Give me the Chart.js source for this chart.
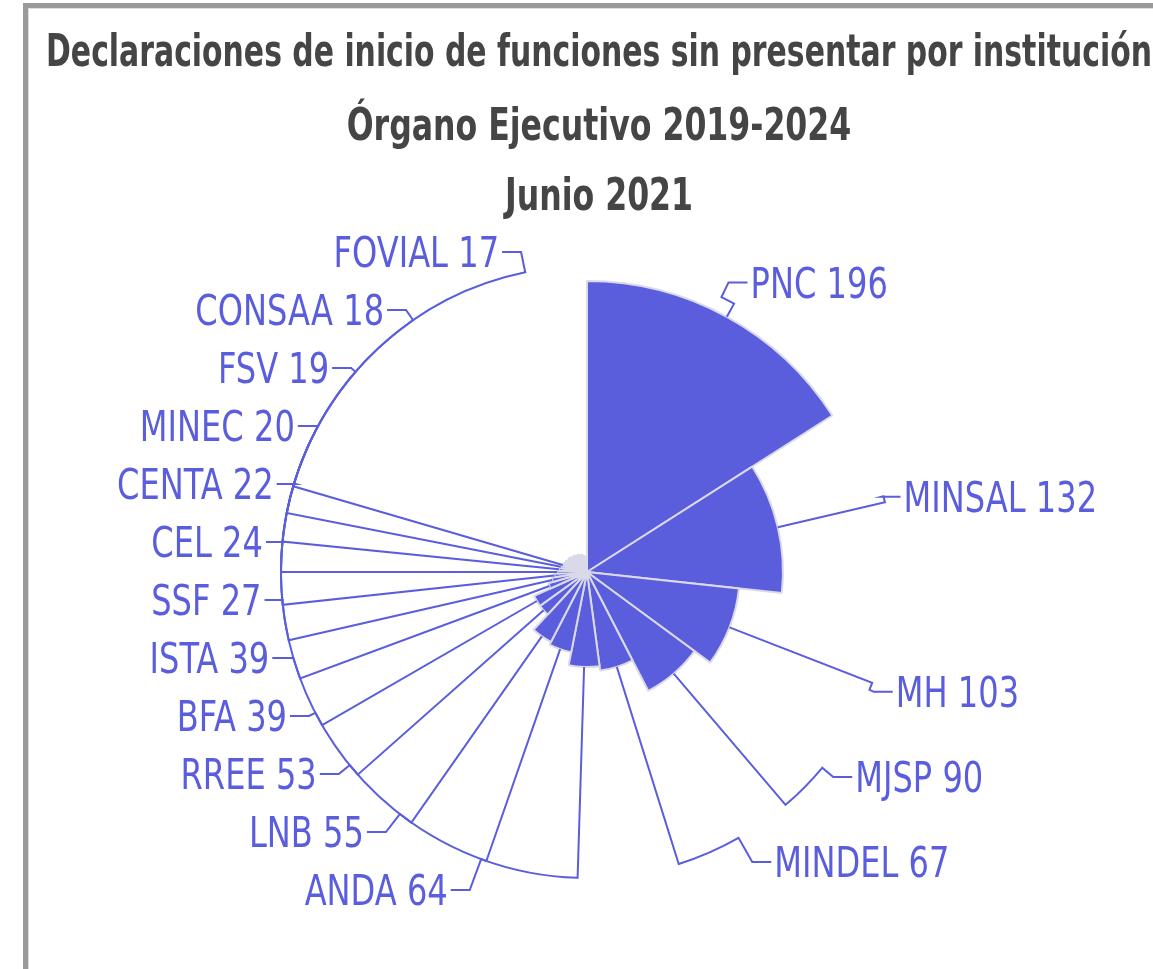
<!DOCTYPE html>
<html lang="es">
<head>
<meta charset="utf-8">
<title>Declaraciones de inicio de funciones sin presentar por institución</title>
<script src="https://cdn.jsdelivr.net/npm/chart.js@4.4.1/dist/chart.umd.min.js"></script>
<style>
  html, body { margin: 0; padding: 0; background: #fff; overflow: hidden; }
  #marco {
    position: absolute; left: 23px; top: 3px;
    width: 1200px; height: 1000px;
    border: 5px solid #9a9a9a;
    box-shadow: inset 1px 1px 0 #dedede;
  }
  #grafico { position: absolute; left: 0; top: 0; }
</style>
</head>
<body>
<div id="marco"></div>
<canvas id="grafico" width="1153" height="969"></canvas>
<script>
// instituciones con etiqueta visible
var instituciones = ["PNC", "MINSAL", "MH", "MJSP", "MINDEL", "ANDA", "LNB", "RREE", "BFA",
  "ISTA", "SSF", "CEL", "CENTA", "MINEC", "FSV", "CONSAA", "FOVIAL"];
var declaraciones = [196, 132, 103, 90, 67, 64, 55, 53, 39, 39, 27, 24, 22, 20, 19, 18, 17];
// resto de instituciones, sin etiqueta en el gráfico (valores estimados)
var otrasDeclaraciones = [16, 16, 15, 15, 15, 14, 14, 14, 13, 13, 13, 12, 12, 12, 11, 11, 10, 10, 7];

var titulo = [
  "Declaraciones de inicio de funciones sin presentar por institución",
  "Órgano Ejecutivo 2019-2024",
  "Junio 2021"
];

var azul = "#5a5edc";
var fuente = "'Liberation Sans Narrow', 'DejaVu Sans Condensed', sans-serif";

var etiquetas = instituciones.concat(otrasDeclaraciones.map(function () { return ""; }));
var valores = declaraciones.concat(otrasDeclaraciones);
var total = valores.reduce(function (a, b) { return a + b; }, 0);

// texto estrecho: se comprime en horizontal para imitar la fuente narrow del original
function textoEstrecho(ctx, txt, x, y, factor) {
  ctx.fillText(txt, x, y, ctx.measureText(txt).width * factor);
}

// titulo de tres lineas centrado sobre el marco
var tituloPlugin = {
  id: "titulo",
  afterDraw: function (chart) {
    var ctx = chart.ctx;
    var lineas = [66, 140, 210];
    var factores = [0.738, 0.78, 0.78];
    ctx.save();
    ctx.fillStyle = "#454545";
    ctx.font = "bold 45px " + fuente;
    ctx.textAlign = "center";
    ctx.textBaseline = "alphabetic";
    titulo.forEach(function (t, i) {
      textoEstrecho(ctx, t, 599, lineas[i], factores[i]);
    });
    ctx.restore();
  }
};

// etiquetas exteriores con lineas guia (estilo rosa de Nightingale)
var etiquetasPlugin = {
  id: "etiquetasRosa",
  afterDatasetsDraw: function (chart) {
    var ctx = chart.ctx;
    var escala = chart.scales.r;
    var cx = escala.xCenter, cy = escala.yCenter;
    var R = escala.drawingArea;
    var r1 = R + 15;           // codo de la linea guia
    var rL = R + 39;           // posicion natural de la etiqueta
    var rA = R + 13, rB = R + 45, yElipse = cy + 8;
    var largo2 = 22;
    var sep = { izq: 58, der: 85 };
    var limite = { izq: 890, der: 862 };
    var meta = chart.getDatasetMeta(0);
    var lados = { izq: [], der: [] };

    meta.data.forEach(function (arco, i) {
      if (!etiquetas[i]) return;
      var medio = (arco.startAngle + arco.endAngle) / 2;
      var lado = Math.cos(medio) >= 0 ? "der" : "izq";
      lados[lado].push({ i: i, a: medio, r: arco.outerRadius, y: cy + rL * Math.sin(medio) });
    });

    ctx.save();
    ctx.strokeStyle = azul;
    ctx.fillStyle = azul;
    ctx.lineWidth = 2;
    ctx.font = "42px " + fuente;
    ctx.textBaseline = "alphabetic";

    Object.keys(lados).forEach(function (lado) {
      var lista = lados[lado].sort(function (a, b) { return a.y - b.y; });
      var s = sep[lado];
      var k;
      for (k = 1; k < lista.length; k++) lista[k].y = Math.max(lista[k].y, lista[k - 1].y + s);
      var n = lista.length - 1;
      lista[n].y = Math.min(lista[n].y, limite[lado]);
      for (k = n - 1; k >= 0; k--) lista[k].y = Math.min(lista[k].y, lista[k + 1].y - s);

      var dir = lado === "der" ? 1 : -1;
      lista.forEach(function (e) {
        var dyE = e.y - yElipse;
        var dx = rA * Math.sqrt(Math.max(0, 1 - dyE * dyE / (rB * rB)));
        var x2 = cx + dir * dx;
        var xt = x2 + dir * largo2;
        var a2 = Math.atan2(e.y - cy, x2 - cx);
        var delta = a2 - e.a;
        while (delta > Math.PI) delta -= 2 * Math.PI;
        while (delta < -Math.PI) delta += 2 * Math.PI;

        ctx.beginPath();
        ctx.moveTo(cx + e.r * Math.cos(e.a), cy + e.r * Math.sin(e.a));
        ctx.lineTo(cx + r1 * Math.cos(e.a), cy + r1 * Math.sin(e.a));
        ctx.arc(cx, cy, r1, e.a, e.a + delta, delta < 0);
        ctx.lineTo(x2, e.y);
        ctx.lineTo(xt - dir * 3, e.y);
        ctx.stroke();

        ctx.textAlign = dir > 0 ? "left" : "right";
        textoEstrecho(ctx, etiquetas[e.i] + " " + valores[e.i], xt, e.y + 15, 0.85);
      });
    });
    ctx.restore();
  }
};

var config = {
  type: "polarArea",
  data: {
    labels: etiquetas,
    datasets: [{
      data: valores,
      backgroundColor: azul,
      borderColor: "#d9d9e8",
      borderWidth: 2,
      // angulo proporcional al valor (rosa tipo "radius")
      angle: function (c) { return valores[c.dataIndex] / total * 360; }
    }]
  },
  options: {
    responsive: false,
    animation: false,
    layout: { padding: { left: 296, right: 275, top: 281, bottom: 106 } },
    scales: {
      r: {
        display: false,
        min: 0,
        max: Math.max.apply(null, valores)
      }
    },
    plugins: {
      legend: { display: false },
      title: { display: false },
      tooltip: { enabled: false }
    }
  },
  plugins: [tituloPlugin, etiquetasPlugin]
};

var chart = new Chart(document.getElementById("grafico"), config);
</script>
</body>
</html>
